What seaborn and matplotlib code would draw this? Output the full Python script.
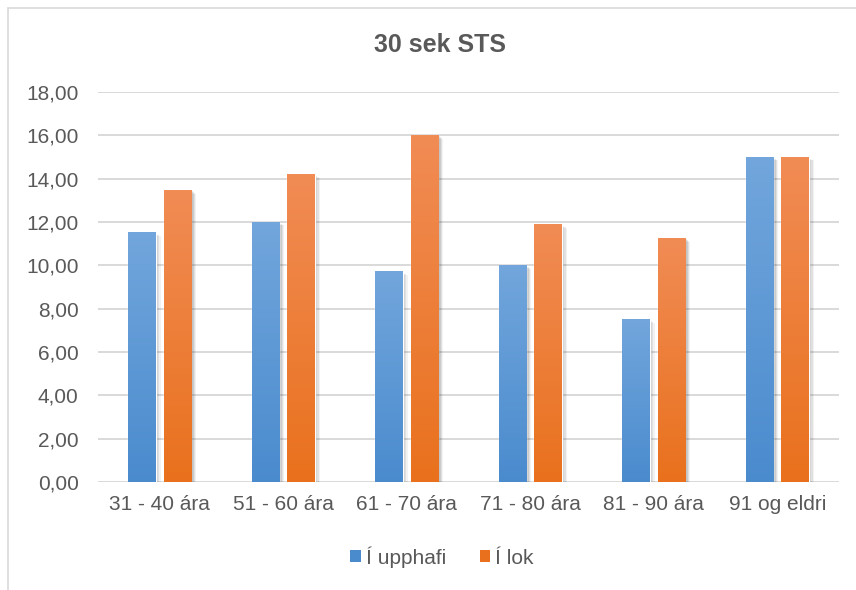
import numpy as np
import pandas as pd
import matplotlib
matplotlib.use("Agg")
import matplotlib.pyplot as plt
import seaborn as sns
from matplotlib.colors import LinearSegmentedColormap
from matplotlib.patches import Patch, Rectangle
from matplotlib.ticker import FuncFormatter, MultipleLocator
import matplotlib.transforms as mtransforms

# Data
categories = ["31 - 40 ára", "51 - 60 ára", "61 - 70 ára", "71 - 80 ára", "81 - 90 ára", "91 og eldri"]
series_names = ["Í upphafi", "Í lok"]
upphafi = [11.5, 12.0, 9.7, 10.0, 7.5, 15.0]
lok = [13.45, 14.2, 16.0, 11.9, 11.25, 15.0]

df = pd.DataFrame({
    "cat": categories * 2,
    "val": upphafi + lok,
    "series": [series_names[0]] * len(categories) + [series_names[1]] * len(categories),
})

# top / bottom colours of the gradients
grad = {
    "Í upphafi": ("#72a6dc", "#4a8bce"),
    "Í lok": ("#f18c55", "#e9711d"),
}
text_col = "#595959"
grid_col = "#d9d9d9"

sns.set_style("white")
plt.rcParams["font.family"] = ["Liberation Sans Narrow", "Liberation Sans", "DejaVu Sans"]

fig = plt.figure(figsize=(8.56, 5.90), dpi=100)
ax = fig.add_axes([98 / 856, 1 - 482 / 590, 741 / 856, 390 / 590])

palette = {k: v[1] for k, v in grad.items()}
sns.barplot(data=df, x="cat", y="val", hue="series", order=categories,
            hue_order=series_names, palette=palette, width=0.576, gap=0.226,
            errorbar=None, legend=False, ax=ax, zorder=3)

# gradient fill + soft shadow on each bar
bars = [p for p in ax.patches if isinstance(p, Rectangle)]
n = len(categories)
for i, p in enumerate(bars):
    key = series_names[i // n]
    top, bottom = grad[key]
    cmap = LinearSegmentedColormap.from_list(key, [bottom, top])
    x0, y0 = p.get_x(), p.get_y()
    w, h = p.get_width(), p.get_height()
    for k, a in [(4, 0.05), (3, 0.07), (2, 0.09), (1, 0.1)]:
        tr = mtransforms.offset_copy(ax.transData, fig=fig, x=k * 0.9, y=-k * 0.6, units="points")
        ax.add_patch(Rectangle((x0, y0), w, h, transform=tr, facecolor="#000000",
                               alpha=a, edgecolor="none", zorder=2))
    g = np.linspace(0, 1, 256).reshape(-1, 1)
    ax.imshow(g, extent=[x0, x0 + w, y0, y0 + h], origin="lower", aspect="auto",
              cmap=cmap, zorder=3.5, interpolation="bilinear")
    p.set_facecolor("none")

ax.set_xlim(-0.5, n - 0.5)
ax.set_ylim(0, 18)
ax.yaxis.set_major_locator(MultipleLocator(2))
ax.yaxis.set_major_formatter(FuncFormatter(lambda v, _: f"{v:.2f}".replace(".", ",")))
ax.grid(axis="y", color=grid_col, linewidth=1.4, zorder=0)
ax.set_axisbelow(True)
for s in ax.spines.values():
    s.set_visible(False)
ax.tick_params(axis="both", length=0, labelsize=15, colors=text_col)
ax.tick_params(axis="y", pad=14)
ax.tick_params(axis="x", pad=9)
ax.set_xlabel("")
ax.set_ylabel("")

fig.text(440 / 856, 1 - 45 / 590, "30 sek STS", ha="center", va="center",
         fontsize=18, fontweight="bold", color=text_col)

handles = [Patch(facecolor=grad[s][1], edgecolor="none") for s in series_names]
fig.legend(handles, series_names, loc="center", bbox_to_anchor=(442 / 856, 1 - 557 / 590),
           ncol=2, frameon=False, fontsize=15, labelcolor=text_col,
           handlelength=0.5, handleheight=0.5, handletextpad=0.25, columnspacing=1.6)

# outer chart frame (left and top edges visible)
fig.add_artist(plt.Line2D([8 / 856, 8 / 856], [0, 1 - 8 / 590], transform=fig.transFigure,
                          color="#d9d9d9", linewidth=1.2))
fig.add_artist(plt.Line2D([8 / 856, 1], [1 - 8 / 590, 1 - 8 / 590], transform=fig.transFigure,
                          color="#d9d9d9", linewidth=1.2))

fig.savefig("out.png", dpi=100)
plt.close(fig)
